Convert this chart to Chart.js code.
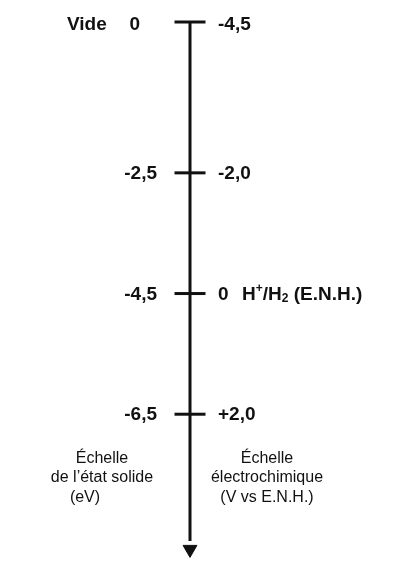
<!DOCTYPE html>
<html>
<head>
<meta charset="utf-8">
<script src="https://cdn.jsdelivr.net/npm/chart.js@4.4.0/dist/chart.umd.min.js"></script>
<style>
html, body { margin: 0; padding: 0; background: #fff; }
#wrap { width: 398px; height: 561px; position: relative; }
</style>
</head>
<body>
<div id="wrap"><canvas id="scaleChart"></canvas></div>
<script>
// levels on the solid-state scale (eV)
const solidValues = [0, -2.5, -4.5, -6.5];
const solidLabels = ['0', '-2,5', '-4,5', '-6,5'];
// the same levels on the electrochemical scale (V vs E.N.H.)
const electroLabels = ['-4,5', '-2,0', '0', '+2,0'];
const vacuumLabel = 'Vide';
// reference couple written next to the 0 V level
const refCouple = [['H', ''], ['+', 'sup'], ['/H', ''], ['2', 'sub'], [' (E.N.H.)', '']];

const solidTitle = ['\u00C9chelle', 'de l\u2019\u00E9tat solide', '(eV)'];
const electroTitle = ['\u00C9chelle', '\u00E9lectrochimique', '(V vs E.N.H.)'];

const axisEnd = -8.6;     // end of the vertical line
const arrowAt = -8.74;    // arrow head
const scaleBottom = -8.8;

const ink = '#111';
const tickFont = 'bold 19px "Liberation Sans", Arial, sans-serif';
const titleFont = '16px "Liberation Sans", Arial, sans-serif';

const labelPlugin = {
    id: 'scaleLabels',
    afterDatasetsDraw(chart) {
        const ctx = chart.ctx;
        const y = chart.scales.y;
        const ax = chart.scales.x.getPixelForValue(0);
        ctx.save();
        ctx.fillStyle = ink;
        ctx.textBaseline = 'middle';
        ctx.font = tickFont;

        solidValues.forEach(function(v, i) {
            const py = y.getPixelForValue(v) + 1 + (i === 0 ? 2 : 0);
            // left side
            ctx.textAlign = 'right';
            ctx.fillText(solidLabels[i], ax - (i === 0 ? 50 : 33), py);
            // right side
            ctx.textAlign = 'left';
            ctx.fillText(electroLabels[i], ax + 28, py);
        });

        // "Vide" next to the top level
        ctx.textAlign = 'left';
        ctx.fillText(vacuumLabel, ax - 123, y.getPixelForValue(0) + 3);

        // H+/H2 (E.N.H.) next to the 0 V level
        let px = ax + 52;
        const py0 = y.getPixelForValue(solidValues[2]) + 1;
        refCouple.forEach(function(part) {
            if (part[1] === '') {
                ctx.font = tickFont;
                ctx.fillText(part[0], px, py0);
            } else {
                ctx.font = 'bold 12px "Liberation Sans", Arial, sans-serif';
                ctx.fillText(part[0], px, py0 + (part[1] === 'sup' ? -6 : 4));
            }
            px += ctx.measureText(part[0]).width;
        });

        // scale titles
        ctx.font = titleFont;
        ctx.textAlign = 'center';
        const titleRows = [459, 478, 498];
        solidTitle.forEach(function(t, i) {
            ctx.fillText(t, ax - (i === 2 ? 105 : 88), titleRows[i]);
        });
        electroTitle.forEach(function(t, i) {
            ctx.fillText(t, ax + 77, titleRows[i]);
        });
        ctx.restore();
    }
};

new Chart(document.getElementById('scaleChart'), {
    type: 'scatter',
    data: {
        datasets: [
            {
                type: 'line',
                data: [{ x: 0, y: 0 }, { x: 0, y: axisEnd }],
                borderColor: ink,
                borderWidth: 3,
                pointRadius: 0,
                clip: false
            },
            {
                data: solidValues.map(v => ({ x: 0, y: v })),
                pointStyle: 'line',
                pointRadius: 15.5,
                borderColor: ink,
                borderWidth: 3,
                clip: false
            },
            {
                data: [{ x: 0, y: arrowAt }],
                pointStyle: 'triangle',
                rotation: 180,
                pointRadius: 8,
                backgroundColor: ink,
                borderColor: ink,
                borderWidth: 1,
                clip: false
            }
        ]
    },
    options: {
        responsive: true,
        maintainAspectRatio: false,
        animation: false,
        layout: {
            autoPadding: false,
            padding: { top: 22, bottom: 8, left: 0, right: 18 }
        },
        scales: {
            x: { type: 'linear', min: -1, max: 1, display: false },
            y: { type: 'linear', min: scaleBottom, max: 0, display: false }
        },
        plugins: {
            legend: { display: false },
            tooltip: { enabled: false }
        }
    },
    plugins: [labelPlugin]
});
</script>
</body>
</html>
